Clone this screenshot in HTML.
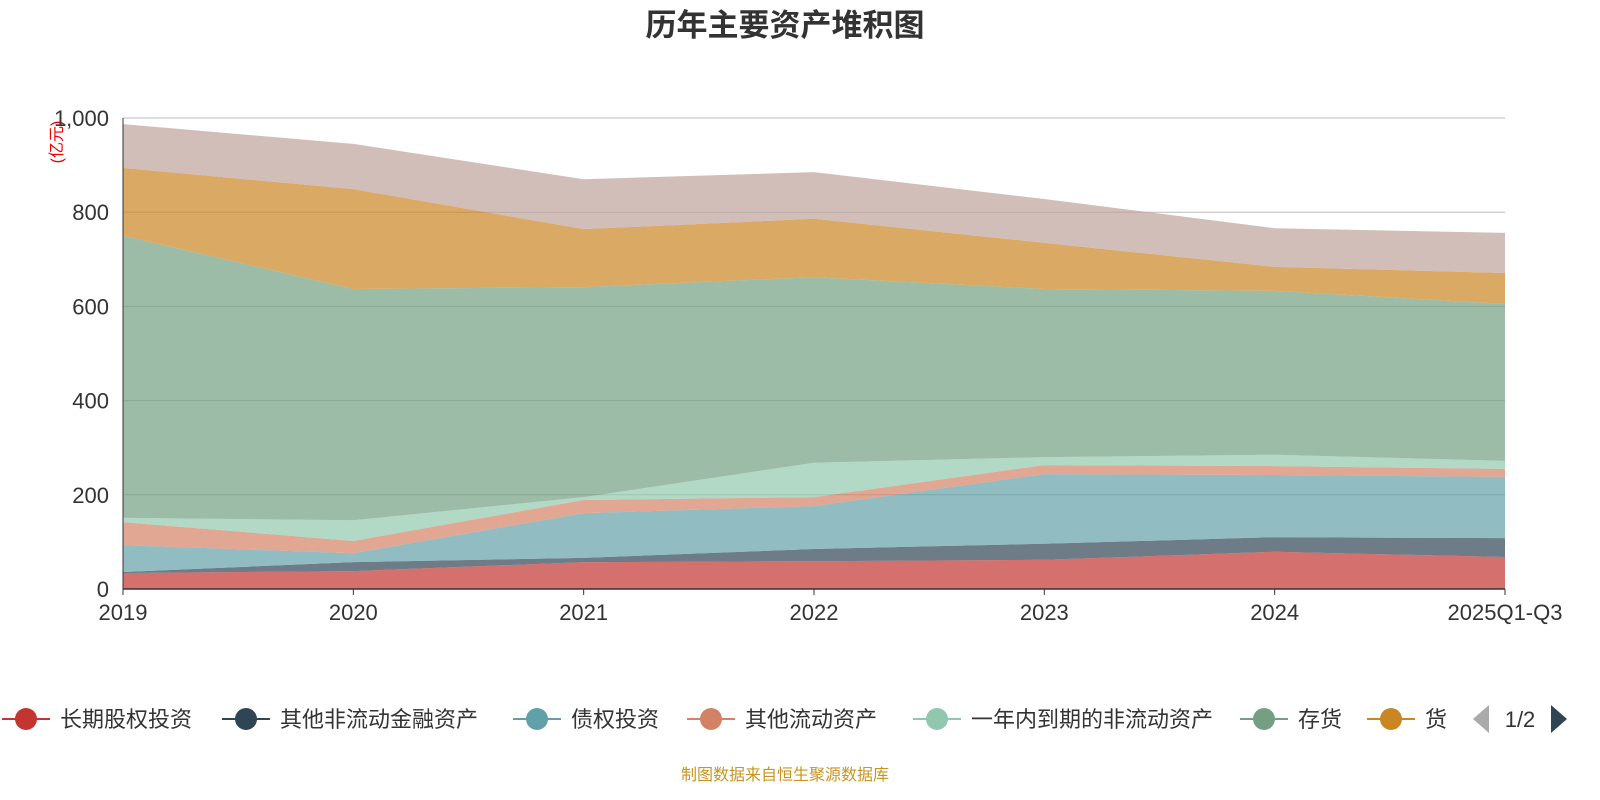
<!DOCTYPE html>
<html><head><meta charset="utf-8"><style>
body{margin:0;background:#fff;font-family:"Liberation Sans","Noto Sans CJK SC",sans-serif;}
svg{display:block}
</style></head><body>
<svg id="chart" width="1600" height="800">
<text x="785" y="36" text-anchor="middle" font-size="31" font-weight="bold" fill="#333" font-family="Liberation Sans, Noto Sans CJK SC, sans-serif">历年主要资产堆积图</text>
<text transform="translate(62,142) rotate(-90)" text-anchor="middle" font-size="16" fill="#e00" font-family="Liberation Sans, Noto Sans CJK SC, sans-serif">(亿元)</text>
<g id="grid"></g><g id="areas"></g><g id="axes"></g><g id="legend"></g>
<text x="785" y="780" text-anchor="middle" font-size="16" fill="#c8961e" font-family="Liberation Sans, Noto Sans CJK SC, sans-serif">制图数据来自恒生聚源数据库</text>
</svg>
<script>
const categories=["2019","2020","2021","2022","2023","2024","2025Q1-Q3"];
const seriesNames=["长期股权投资","其他非流动金融资产","债权投资","其他流动资产","一年内到期的非流动资产","存货","货币资金","其他"];
const s0=[34,38,57,59,62,79,68];
const s1=[2,19,9,26,34,31,40];
const s2=[57,19,95,91,148,132,130];
const s3=[49,26,28,19,19,19,17];
const s4=[9,44,6,73,17,24,17];
const s5=[599,491,446,394,357,348,333];
const s6=[144,212,123,124,98,51,66];
const s7=[93,96,106,99,93,82,85];
const yTicks=[0,200,400,600,800,1000];
const tickLabels=["0","200","400","600","800","1,000"];
const colors=["#c23531","#2f4554","#61a0a8","#d48265","#91c7ae","#749f83","#ca8622","#bda29a"];
const series=[s0,s1,s2,s3,s4,s5,s6,s7];
const NS="http://www.w3.org/2000/svg";
const X0=123,X1=1505,Y0=589,Y1=118;
const xs=i=>X0+(X1-X0)*i/(categories.length-1);
const ys=v=>Y0-(Y0-Y1)*v/1000;
function mk(tag,attrs,parent){const e=document.createElementNS(NS,tag);for(const k in attrs)e.setAttribute(k,attrs[k]);parent.appendChild(e);return e;}
const grid=document.getElementById('grid'),areas=document.getElementById('areas'),axes=document.getElementById('axes'),legend=document.getElementById('legend');
yTicks.forEach((t,i)=>{
 if(t>0){const l=mk('line',{x1:X0,x2:X1,y1:ys(t),y2:ys(t),stroke:'#bbb','stroke-width':1},grid);
 
 }
 const tx=mk('text',{x:X0-14,y:ys(t)+8,'text-anchor':'end','font-size':22,fill:'#333'},axes);tx.textContent=tickLabels[i];
 
 
});
let base=categories.map(()=>0);
series.forEach((s,k)=>{
 const top=base.map((b,i)=>b+s[i]);
 let d='M'+top.map((v,i)=>xs(i)+','+ys(v)).join('L');
 for(let i=categories.length-1;i>=0;i--)d+='L'+xs(i)+','+ys(base[i]);
 d+='Z';
 const p=mk('path',{d:d,fill:colors[k],'fill-opacity':0.7,stroke:'none'},areas);
 
 
 base=top;
});
const ax=mk('line',{x1:X0,x2:X1,y1:Y0,y2:Y0,stroke:'#333','stroke-width':1.5},axes);


const ay=mk('line',{x1:X0,x2:X0,y1:Y1,y2:Y0,stroke:'#333','stroke-width':1},axes);


categories.forEach((c,i)=>{
 mk('line',{x1:xs(i),x2:xs(i),y1:Y0,y2:Y0+6,stroke:'#333'},axes);
 const t=mk('text',{x:xs(i),y:Y0+31,'text-anchor':'middle','font-size':22,fill:'#333'},axes);t.textContent=c;
 
 
});
const legX=[26,246,537,711,937,1264,1391];
for(let k=0;k<7;k++){
 const g=mk('g',{},legend);
 
 
 mk('line',{x1:legX[k]-24,x2:legX[k]+24,y1:719,y2:719,stroke:colors[k],'stroke-width':2},g);
 mk('circle',{cx:legX[k],cy:719,r:11,fill:colors[k]},g);
 const t=mk('text',{x:legX[k]+34,y:727,'font-size':22,fill:'#333'},g);t.textContent=k==6?'货':seriesNames[k];
}
const pg=mk('g',{},legend);


mk('path',{d:'M1489,719 L1473,705 L1473,733Z',fill:'#aaa',transform:'translate(2962,0) scale(-1,1)'},pg);
const pt=mk('text',{x:1520,y:727,'text-anchor':'middle','font-size':22,fill:'#333'},pg);pt.textContent='1/2';
mk('path',{d:'M1551,705 L1567,719 L1551,733Z',fill:'#2f4554'},pg);
</script>
</body></html>
